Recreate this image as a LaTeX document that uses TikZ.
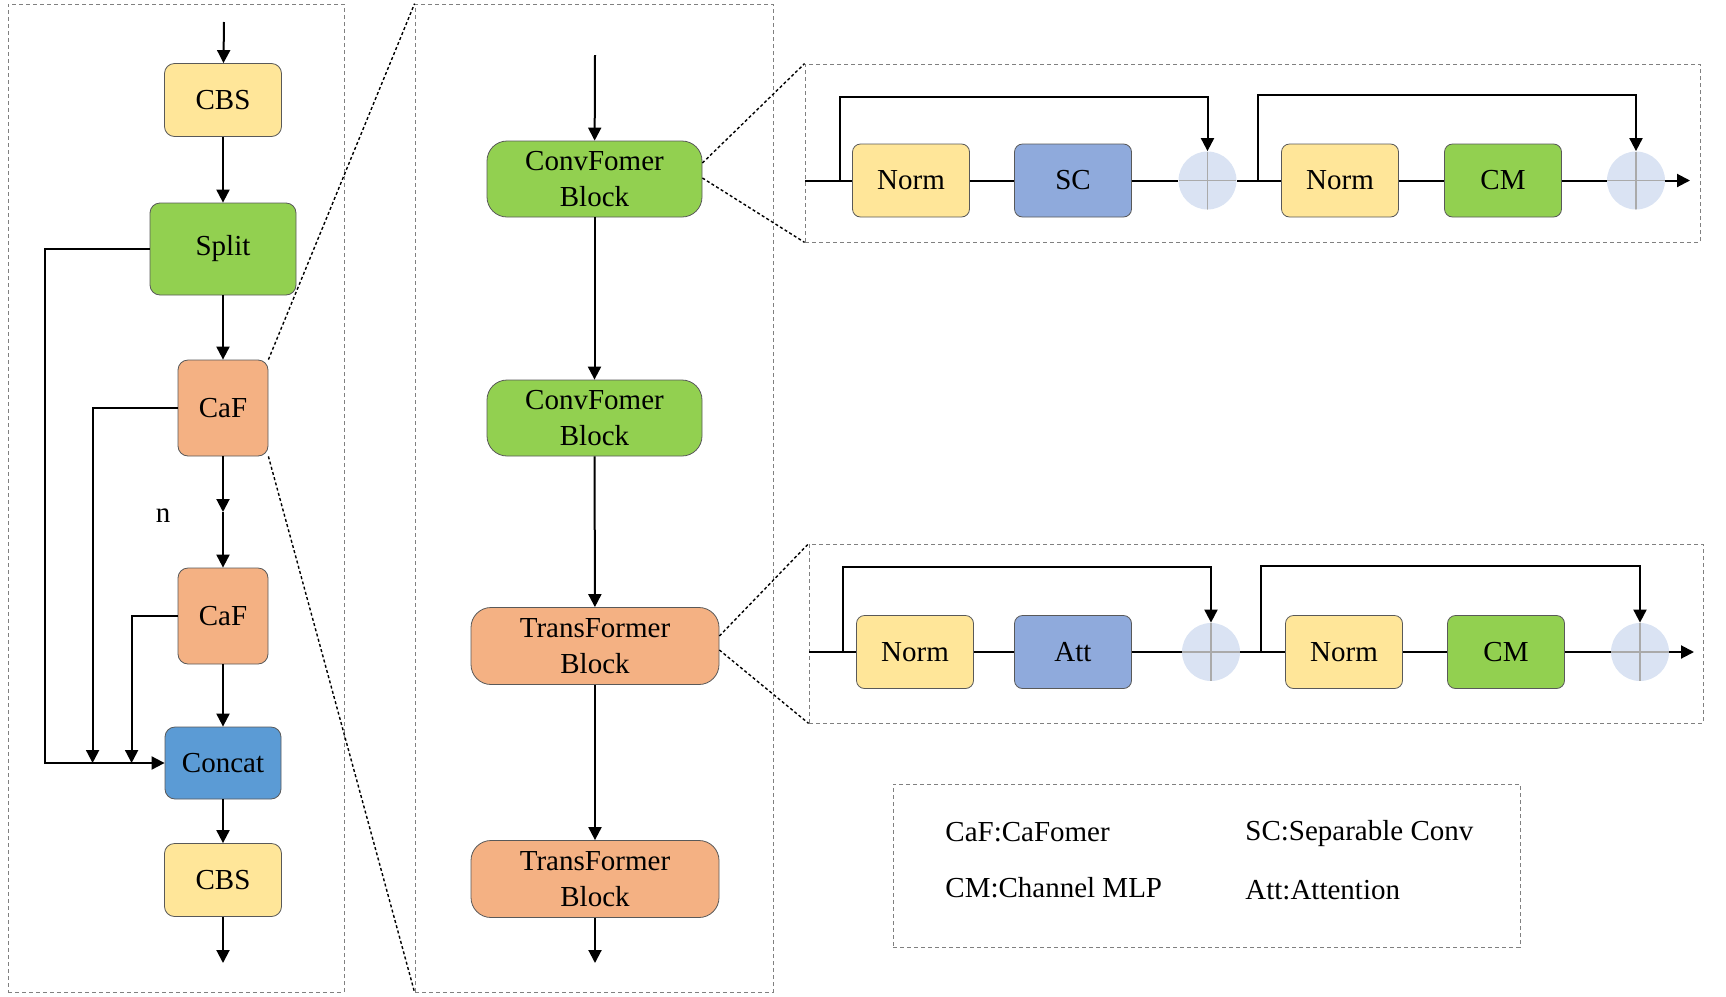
\documentclass[tikz,border=0pt]{standalone}
\usepackage{fontspec}
\setmainfont{Liberation Serif}
\usetikzlibrary{arrows.meta,positioning,calc}
\definecolor{cbsyellow}{RGB}{255,230,153}
\definecolor{splitgreen}{RGB}{146,208,80}
\definecolor{caforange}{RGB}{244,177,131}
\definecolor{concatblue}{RGB}{91,155,213}
\definecolor{opblue}{RGB}{143,170,220}
\definecolor{addfill}{RGB}{218,227,243}
\definecolor{crossgray}{RGB}{170,170,170}
\definecolor{panelgray}{RGB}{128,128,128}

\begin{document}
\begin{tikzpicture}[
        x=0.5pt, y=-0.5pt,
        blk/.style={draw=black!65, line width=0.4pt, rounded corners=5pt, align=center, inner sep=0pt, font=\fontsize{14.5pt}{18pt}\selectfont, minimum width=58.5pt, minimum height=36.5pt},
        cbsbox/.style={blk, fill=cbsyellow},
        splitbox/.style={blk, fill=splitgreen, minimum width=73pt, minimum height=46pt},
        cafbox/.style={blk, fill=caforange, minimum width=45pt, minimum height=48pt},
        concatbox/.style={blk, fill=concatblue, minimum width=58pt, minimum height=36pt},
        convbox/.style={blk, fill=splitgreen, rounded corners=10pt, minimum width=107.5pt, minimum height=38pt},
        transbox/.style={blk, fill=caforange, rounded corners=10pt, minimum width=124pt, minimum height=38.5pt},
        normbox/.style={blk, fill=cbsyellow, rounded corners=4pt},
        opbox/.style={blk, fill=opblue, rounded corners=4pt},
        cmbox/.style={blk, fill=splitgreen, rounded corners=4pt},
        addnode/.style={circle, fill=addfill, minimum size=29pt, inner sep=0pt,
            path picture={\draw[crossgray, line width=0.8pt] (path picture bounding box.north) -- (path picture bounding box.south) (path picture bounding box.west) -- (path picture bounding box.east);}},
        panel/.style={draw=panelgray, line width=0.4pt, dash pattern=on 2pt off 1.5pt, inner sep=0pt},
        zoomline/.style={black, line width=0.7pt, dash pattern=on 1.5pt off 1.2pt},
        txt/.style={font=\fontsize{14.5pt}{18pt}\selectfont, inner sep=0pt},
        line/.style={line width=1pt},
        arr/.style={-{Triangle[length=6.5pt, width=6.5pt]}, line width=1pt}
    ]
    \useasboundingbox (0,0) rectangle (1726,997);

    \node[panel, minimum width=168pt, minimum height=494pt] (leftp) at (176,498) {};
    \node[panel, minimum width=179pt, minimum height=494pt] (mid) at (594,498) {};
    \node[panel, minimum width=447.5pt, minimum height=89pt] (topd) at (1252.5,153) {};
    \node[panel, minimum width=447pt, minimum height=89.5pt] (botd) at (1256,633.5) {};
    \node[panel, minimum width=313.5pt, minimum height=81.5pt] (legend) at (1206.5,865.5) {};

    \node[cbsbox] (cbs1) at (223,100) {CBS};
    \node[splitbox] (split) at (223,249) {Split};
    \node[cafbox] (caf1) at (223,408) {CaF};
    \node[cafbox] (caf2) at (223,616) {CaF};
    \node[concatbox] (concat) at (223,763) {Concat};
    \node[cbsbox] (cbs2) at (223,880) {CBS};
    \node[txt] (nlabel) at (163,516) {n};
    \coordinate (inL) at (224,22);
    \coordinate (nmid) at (223,512);
    \coordinate (outL) at (223,963);

    \draw[arr] (inL) -- (cbs1);
    \draw[arr] (cbs1) -- (split);
    \draw[arr] (split) -- (caf1);
    \draw[arr] (caf1) -- (nmid);
    \draw[arr] (nmid) -- (caf2);
    \draw[arr] (caf2) -- (concat);
    \draw[arr] (concat) -- (cbs2);
    \draw[arr] (cbs2) -- (outL);
    \draw[arr] (split.west) -| ([xshift=-60pt]concat.west) -- (concat.west);
    \draw[arr] (caf1.west) -| ([xshift=-36pt]concat.west);
    \draw[arr] (caf2.west) -| ([xshift=-16.5pt]concat.west);

    \node[convbox] (cf1) at (594.5,179) {ConvFomer\\Block};
    \node[convbox] (cf2) at (594.5,418) {ConvFomer\\Block};
    \node[transbox] (tf1) at (595,646) {TransFormer\\Block};
    \node[transbox] (tf2) at (595,879) {TransFormer\\Block};
    \coordinate (inM) at (595,55);
    \coordinate (outM) at (595,963);

    \draw[arr] (inM) -- (cf1);
    \draw[arr] (cf1) -- (cf2);
    \draw[arr] (cf2) -- (tf1);
    \draw[arr] (tf1) -- (tf2);
    \draw[arr] (tf2) -- (outM);

    \draw[zoomline] (caf1.north east) -- (mid.north west);
    \draw[zoomline] (caf1.south east) -- (mid.south west);
    \draw[zoomline] ($(cf1.east)+(0,-16)$) -- (topd.north west);
    \draw[zoomline] ($(cf1.east)+(0,-1)$) -- (topd.south west);
    \draw[zoomline] ($(tf1.east)+(0,-10)$) -- (botd.north west);
    \draw[zoomline] ($(tf1.east)+(0,4)$) -- (botd.south west);

    \node[normbox] (norm1) at (911,180.5) {Norm};
    \node[opbox] (sc) at (1073,180.5) {SC};
    \node[addnode] (add1) at (1207.5,180.5) {};
    \node[normbox] (norm2) at (1340,180.5) {Norm};
    \node[cmbox] (cm1) at (1503,180.5) {CM};
    \node[addnode] (add2) at (1636,180.5) {};
    \coordinate (in1) at (805,180.5);
    \coordinate (skip1) at (840,180.5);
    \coordinate (skip2) at (1258,180.5);
    \coordinate (out1) at (1690,180.5);

    \draw[line] (in1) -- (norm1);
    \draw[line] (norm1) -- (sc);
    \draw[line] (sc) -- (add1);
    \draw[line] (add1) -- (norm2);
    \draw[line] (norm2) -- (cm1);
    \draw[line] (cm1) -- (add2);
    \draw[arr] (add2) -- (out1);
    \draw[arr] (skip1) -- ++(0,-83.5) -| (add1.north);
    \draw[arr] (skip2) -- ++(0,-85.5) -| (add2.north);

    \node[normbox] (norm3) at (915,652) {Norm};
    \node[opbox] (att) at (1073,652) {Att};
    \node[addnode] (add3) at (1211,652) {};
    \node[normbox] (norm4) at (1344,652) {Norm};
    \node[cmbox] (cm2) at (1506,652) {CM};
    \node[addnode] (add4) at (1640,652) {};
    \coordinate (in2) at (809,652);
    \coordinate (skip3) at (843,652);
    \coordinate (skip4) at (1261,652);
    \coordinate (out2) at (1694,652);

    \draw[line] (in2) -- (norm3);
    \draw[line] (norm3) -- (att);
    \draw[line] (att) -- (add3);
    \draw[line] (add3) -- (norm4);
    \draw[line] (norm4) -- (cm2);
    \draw[line] (cm2) -- (add4);
    \draw[arr] (add4) -- (out2);
    \draw[arr] (skip3) -- ++(0,-85) -| (add3.north);
    \draw[arr] (skip4) -- ++(0,-86) -| (add4.north);

    \node[txt, anchor=west] (key1) at (945,832) {CaF:CaFomer};
    \node[txt, anchor=west] (key2) at (945,888) {CM:Channel MLP};
    \node[txt, anchor=west] (key3) at (1245,834) {SC:Separable Conv};
    \node[txt, anchor=west] (key4) at (1245,890) {Att:Attention};
\end{tikzpicture}
\end{document}
